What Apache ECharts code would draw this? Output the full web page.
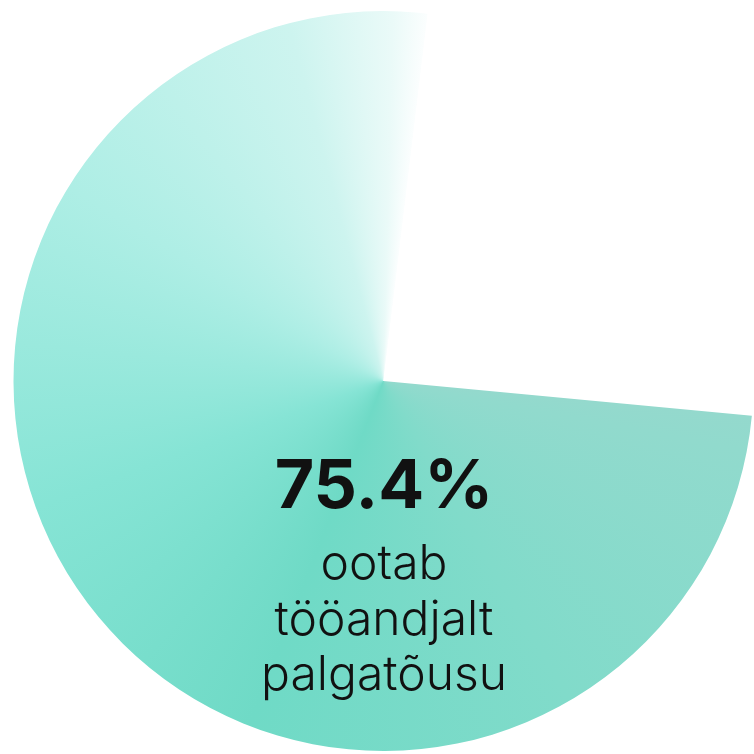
<!DOCTYPE html>
<html>
<head>
<meta charset="utf-8">
<script src="https://cdn.jsdelivr.net/npm/echarts@6/dist/echarts.min.js"></script>
<style>html,body{margin:0;padding:0;background:#fff}#c{width:754px;height:754px}</style>
</head>
<body>
<div id="c"></div>
<script>
// data
var categories = ['ootab tööandjalt palgatõusu', 'muu'];
var values = [75.4, 24.6];
var headline = '75.4%';
var captionLines = ['ootab', 'tööandjalt', 'palgatõusu'];

// style
var CX = 383.5, CY = 381, R = 370;
var START_ANGLE = -5.4; // echarts degrees
var gradStops = [
  [0.00, '#94d9cd'],
  [0.02, '#91dacd'],
  [0.20, '#81dbca'],
  [0.39, '#6fdac6'],
  [0.57, '#86e4d5'],
  [0.76, '#aeeee5'],
  [0.92, '#cdf4ef'],
  [0.98, '#eafaf8'],
  [1.00, '#fbfefe']
];

var total = values.reduce(function(a,b){return a+b;},0);
var frac = values[0] / total;

var cv = document.createElement('canvas');
cv.width = 754; cv.height = 754;
var ctx = cv.getContext('2d');
var g = ctx.createConicGradient(-START_ANGLE * Math.PI / 180, CX, CY);
gradStops.forEach(function(s){ g.addColorStop(s[0] * frac, s[1]); });
g.addColorStop(Math.min(1, frac + 0.001), '#ffffff');
g.addColorStop(1, '#94d9cd');
ctx.fillStyle = g;
ctx.fillRect(0, 0, 754, 754);

var chart = echarts.init(document.getElementById('c'), null, {renderer: 'canvas'});
var graphics = [];
graphics.push({
  type: 'text', x: 384, y: 488, silent: true, z: 100,
  style: {text: headline, fontFamily: 'Inter', fontWeight: 'bold', fontSize: 68,
    fill: '#111111', align: 'center', verticalAlign: 'middle'}
});
var capY = [565, 621, 676];
captionLines.forEach(function(t, i){
  graphics.push({
    type: 'text', x: 384, y: capY[i], silent: true, z: 100,
    style: {text: t, fontFamily: 'Inter', fontWeight: 300, fontSize: 48,
      fill: '#111111', align: 'center', verticalAlign: 'middle'}
  });
});

chart.setOption({
  animation: false,
  backgroundColor: '#ffffff',
  series: [{
    type: 'pie',
    center: [CX, CY],
    radius: [0, R],
    startAngle: START_ANGLE,
    clockwise: true,
    silent: true,
    z: 1,
    label: {show: false},
    labelLine: {show: false},
    emphasis: {disabled: true},
    data: [
      {name: categories[0], value: values[0], itemStyle: {color: {image: cv, repeat: 'no-repeat'}}},
      {name: categories[1], value: values[1], itemStyle: {color: 'rgba(255,255,255,0)'}}
    ]
  }],
  graphic: {elements: graphics}
});
</script>
</body>
</html>
